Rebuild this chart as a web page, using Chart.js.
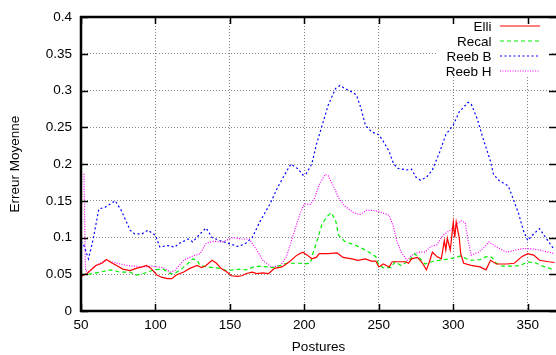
<!DOCTYPE html>
<html>
<head>
<meta charset="utf-8">
<script src="https://cdn.jsdelivr.net/npm/chart.js@4/dist/chart.umd.min.js"></script>
<style>
  html, body { margin: 0; padding: 0; background: #fff; }
  #wrap { width: 556px; height: 355px; position: relative; }
</style>
</head>
<body>
<div id="wrap"><canvas id="c" width="556" height="355"></canvas></div>
<script>
// Mean error per posture for each method
const elliPostures = [50,54,60,64,67,71,74,78,83,87,91,94,97,101,104,108,111,114,119,123,128,131,134,138,141,144,148,151,155,158,161,165,168,172,176,180,185,190,195,199,202,205,208,210,216,222,226,232,236,241,245,248,250,253,257,259,263,268,270,272,276,279,282,284,286,289,292,294,295,296,298,300,301,302,303,304,305,307,312,318,322,325,329,336,341,346,350,354,358,364,368];
const elliErrors = [0.047,0.051,0.062,0.065,0.070,0.065,0.062,0.057,0.055,0.058,0.060,0.062,0.058,0.049,0.046,0.044,0.044,0.049,0.053,0.058,0.062,0.059,0.062,0.069,0.065,0.058,0.053,0.048,0.047,0.048,0.051,0.053,0.051,0.052,0.051,0.058,0.060,0.067,0.076,0.080,0.076,0.071,0.073,0.078,0.078,0.079,0.073,0.071,0.069,0.071,0.068,0.068,0.060,0.064,0.060,0.067,0.067,0.067,0.065,0.071,0.073,0.066,0.056,0.067,0.080,0.074,0.071,0.096,0.083,0.099,0.083,0.121,0.100,0.121,0.110,0.100,0.078,0.065,0.062,0.060,0.056,0.069,0.064,0.064,0.065,0.074,0.078,0.076,0.069,0.067,0.066];

const recalPostures = [50,55,63,70,76,83,87,92,99,105,110,113,118,122,125,128,130,134,139,143,148,152,157,161,166,170,175,179,184,188,193,197,200,204,206,208,212,215,218,221,223,227,232,236,241,245,248,250,253,258,261,265,270,274,278,281,287,291,298,305,311,318,322,326,329,333,340,345,350,356,360,365,368];
const recalErrors = [0.050,0.050,0.053,0.056,0.053,0.053,0.049,0.051,0.056,0.057,0.051,0.051,0.058,0.065,0.071,0.069,0.062,0.060,0.059,0.058,0.055,0.056,0.057,0.056,0.060,0.061,0.060,0.059,0.062,0.065,0.065,0.065,0.064,0.065,0.080,0.092,0.119,0.128,0.134,0.123,0.103,0.095,0.091,0.088,0.083,0.078,0.074,0.062,0.059,0.059,0.067,0.062,0.068,0.078,0.071,0.064,0.068,0.069,0.071,0.075,0.069,0.070,0.074,0.073,0.065,0.061,0.061,0.062,0.067,0.065,0.061,0.058,0.055];

const reebBPostures = [50,52,55,58,62,66,73,77,83,86,91,95,100,103,108,113,116,122,125,130,134,138,143,149,155,160,165,170,177,182,188,191,196,199,201,205,208,212,216,221,224,227,232,235,238,241,245,250,253,257,260,263,269,272,275,278,282,286,291,295,300,304,310,312,316,320,325,327,331,337,340,344,347,350,354,358,362,368];
const reebBErrors = [0.095,0.089,0.071,0.096,0.139,0.141,0.150,0.137,0.110,0.105,0.105,0.110,0.103,0.087,0.089,0.087,0.092,0.098,0.094,0.105,0.113,0.100,0.096,0.092,0.088,0.091,0.100,0.121,0.146,0.168,0.190,0.200,0.193,0.185,0.186,0.200,0.226,0.253,0.280,0.303,0.307,0.303,0.298,0.294,0.276,0.253,0.244,0.240,0.231,0.217,0.200,0.194,0.192,0.193,0.182,0.178,0.182,0.192,0.217,0.240,0.253,0.271,0.284,0.282,0.262,0.235,0.204,0.186,0.177,0.170,0.154,0.132,0.110,0.096,0.105,0.112,0.100,0.083];

const reebHPostures = [50,52,53,55,60,67,74,81,90,98,105,110,113,119,124,130,134,139,145,152,158,163,168,172,178,184,188,192,197,200,204,207,210,214,216,220,223,227,233,237,242,246,252,257,260,262,265,269,272,277,281,285,289,293,298,301,305,308,310,312,317,321,324,329,336,342,347,351,358,364,368];
const reebHErrors = [0.185,0.186,0.055,0.053,0.062,0.069,0.065,0.062,0.060,0.061,0.059,0.053,0.055,0.069,0.074,0.078,0.092,0.095,0.094,0.100,0.098,0.098,0.083,0.069,0.060,0.062,0.074,0.100,0.132,0.146,0.145,0.154,0.172,0.186,0.184,0.168,0.154,0.143,0.134,0.131,0.137,0.137,0.134,0.130,0.114,0.096,0.080,0.069,0.076,0.080,0.080,0.088,0.090,0.103,0.110,0.116,0.123,0.120,0.096,0.076,0.080,0.087,0.094,0.087,0.080,0.083,0.085,0.085,0.083,0.080,0.078];

const xTickValues = [50, 100, 150, 200, 250, 300, 350];
const yTickValues = [0, 0.05, 0.1, 0.15, 0.2, 0.25, 0.3, 0.35, 0.4];

const FONT = "'Liberation Sans', Arial, Helvetica, sans-serif";
const FONT_SIZE = 13.5;

function pairs(xs, ys) { return xs.map((x, i) => ({ x: x, y: ys[i] })); }

// White box behind the key so grid lines do not run through it
const keyBackground = {
  id: 'keyBackground',
  beforeDatasetsDraw(chart) {
    const ctx = chart.ctx;
    ctx.save();
    ctx.fillStyle = '#fff';
    ctx.fillRect(438, 19, 113, 58);
    ctx.restore();
  }
};

// Key in the top right corner: label, then a sample of the line style
const keyDraw = {
  id: 'keyDraw',
  afterDatasetsDraw(chart) {
    const ctx = chart.ctx;
    ctx.save();
    ctx.font = FONT_SIZE + 'px ' + FONT;
    ctx.textAlign = 'right';
    ctx.textBaseline = 'alphabetic';
    chart.data.datasets.forEach((ds, i) => {
      const base = 30.5 + i * 15;
      ctx.fillStyle = '#000';
      ctx.fillText(ds.label, 491.5, base);
      const ly = base - 4.5;
      ctx.strokeStyle = ds.borderColor;
      ctx.lineWidth = ds.borderWidth;
      ctx.setLineDash(ds.borderDash || []);
      ctx.beginPath();
      ctx.moveTo(500, ly);
      ctx.lineTo(540, ly);
      ctx.stroke();
    });
    ctx.restore();
  }
};

// Heavy frame with inward tick marks on all sides
const frame = {
  id: 'frame',
  afterDraw(chart) {
    const ctx = chart.ctx;
    const a = chart.chartArea;
    const xs = chart.scales.x, ys = chart.scales.y;
    ctx.save();
    ctx.strokeStyle = '#000';
    ctx.setLineDash([]);
    ctx.lineWidth = 1.5;
    const T = 7;
    ctx.beginPath();
    yTickValues.forEach(v => {
      const y = Math.round(ys.getPixelForValue(v)) + 0.5;
      ctx.moveTo(a.left, y); ctx.lineTo(a.left + T, y);
      ctx.moveTo(a.right, y); ctx.lineTo(a.right - T, y);
    });
    xTickValues.forEach(v => {
      const x = Math.round(xs.getPixelForValue(v)) + 0.5;
      ctx.moveTo(x, a.bottom); ctx.lineTo(x, a.bottom - T);
      ctx.moveTo(x, a.top); ctx.lineTo(x, a.top + T);
    });
    ctx.stroke();
    ctx.lineWidth = 2.5;
    ctx.beginPath();
    ctx.moveTo(a.right + 2, a.top);
    ctx.lineTo(a.left, a.top);
    ctx.lineTo(a.left, a.bottom);
    ctx.lineTo(a.right + 2, a.bottom);
    ctx.stroke();
    ctx.restore();
  }
};

new Chart(document.getElementById('c'), {
  type: 'line',
  data: {
    datasets: [
      { label: 'Elli', data: pairs(elliPostures, elliErrors), borderColor: '#ff0000', borderWidth: 1.2, borderDash: [] },
      { label: 'Recal', data: pairs(recalPostures, recalErrors), borderColor: '#00ee00', borderWidth: 1.2, borderDash: [4, 3] },
      { label: 'Reeb B', data: pairs(reebBPostures, reebBErrors), borderColor: '#0000ff', borderWidth: 1.2, borderDash: [2, 2.5] },
      { label: 'Reeb H', data: pairs(reebHPostures, reebHErrors), borderColor: '#ff00ff', borderWidth: 1.2, borderDash: [1, 1.5] }
    ]
  },
  options: {
    responsive: false,
    animation: false,
    devicePixelRatio: 1,
    layout: { padding: { top: 14, right: 0, left: 0, bottom: 0 } },
    elements: { point: { radius: 0 }, line: { tension: 0, fill: false } },
    plugins: { legend: { display: false }, tooltip: { enabled: false } },
    scales: {
      x: {
        type: 'linear',
        min: 50,
        max: 369,
        afterBuildTicks(scale) { scale.ticks = xTickValues.map(v => ({ value: v })); },
        afterFit(scale) { scale.height = 44; },
        grid: { color: '#777', lineWidth: 1, drawTicks: false },
        border: { display: false, dash: [1, 2] },
        ticks: { color: '#000', font: { family: FONT, size: FONT_SIZE }, padding: 6, maxRotation: 0 },
        title: { display: true, text: 'Postures', color: '#000', font: { family: FONT, size: FONT_SIZE }, padding: { top: 0, bottom: 0 } }
      },
      y: {
        type: 'linear',
        min: 0,
        max: 0.4,
        afterBuildTicks(scale) { scale.ticks = yTickValues.map(v => ({ value: v })); },
        afterFit(scale) { scale.width = 81; },
        grid: { color: '#888', lineWidth: 1, drawTicks: false },
        border: { display: false, dash: [1, 2] },
        ticks: {
          color: '#000', font: { family: FONT, size: FONT_SIZE }, padding: 9,
          callback: v => String(Math.round(v * 100) / 100)
        },
        title: { display: true, text: 'Erreur Moyenne', color: '#000', font: { family: FONT, size: FONT_SIZE }, padding: { top: 7, bottom: 0 } }
      }
    }
  },
  plugins: [keyBackground, keyDraw, frame]
});
</script>
</body>
</html>
